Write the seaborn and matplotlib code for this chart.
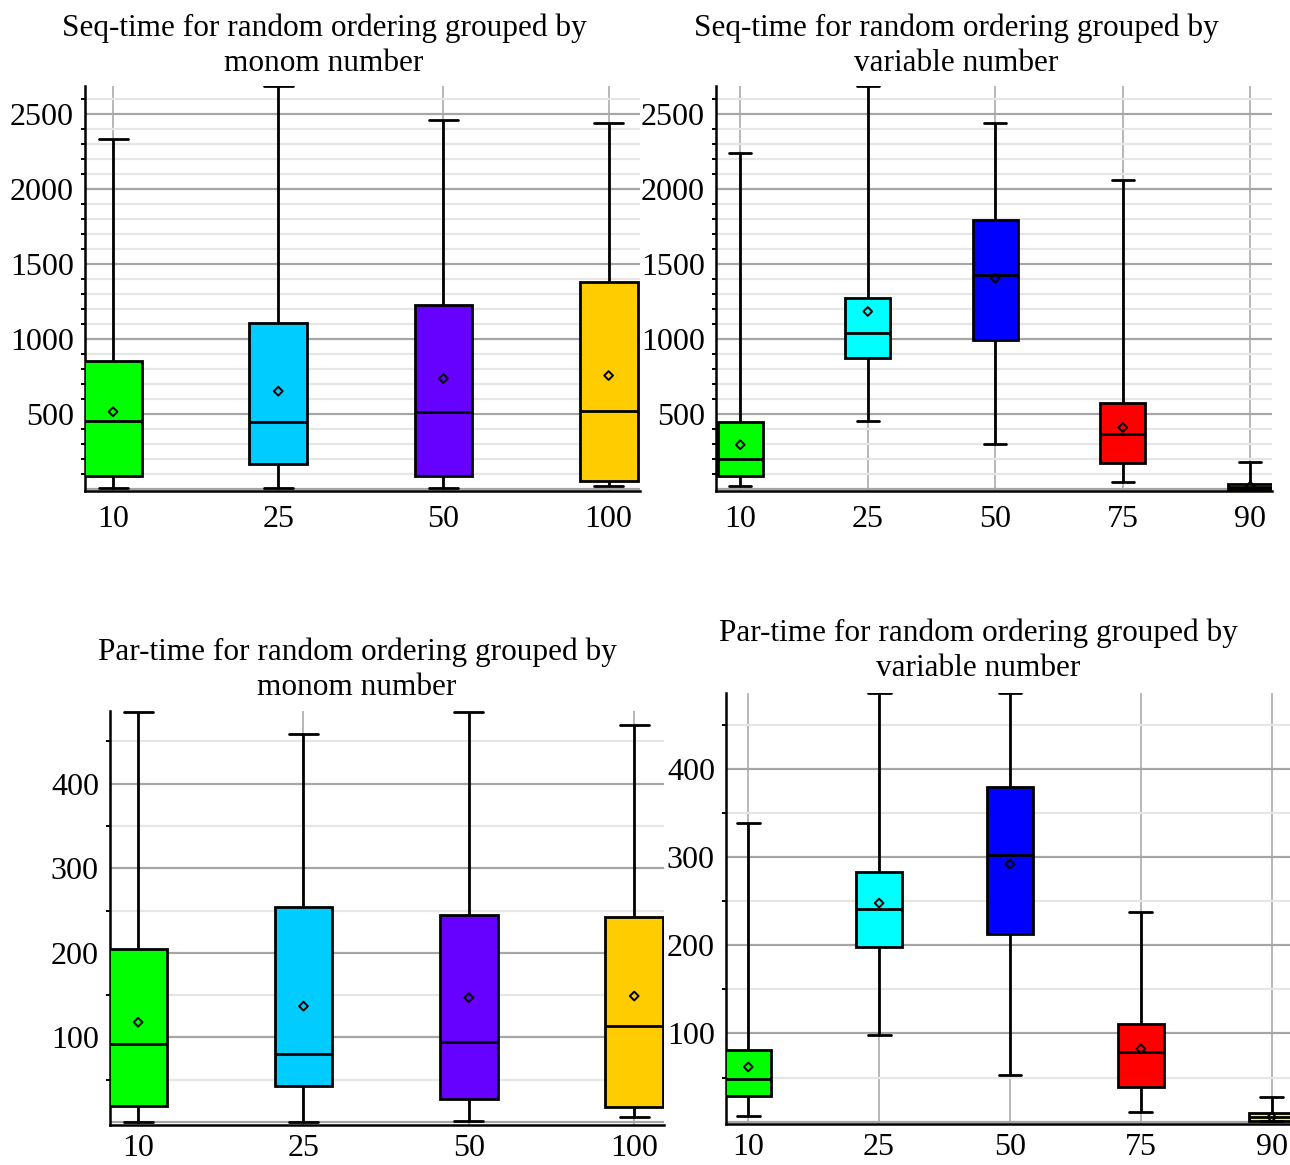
import matplotlib
matplotlib.use("Agg")
import matplotlib.pyplot as plt
from matplotlib.ticker import MultipleLocator, FixedLocator, NullFormatter
import pandas as pd
import seaborn as sns

# ---- categories ----
monom_labels = ["10", "25", "50", "100"]
variable_labels = ["10", "25", "50", "75", "90"]

monom_colors = ["#00FF00", "#00CCFF", "#6600FF", "#FFCC00"]
variable_colors = ["#00FF00", "#00FFFF", "#0000FF", "#FF0000", "#FFFF00"]

# ---- Seq-time grouped by monom number ----
seq_monom_min = [8, 8, 10, 21]
seq_monom_q1 = [90, 169, 92, 58]
seq_monom_med = [457, 446, 515, 519]
seq_monom_q3 = [855, 1106, 1230, 1378]
seq_monom_max = [2334, 2684, 2460, 2438]
seq_monom_mean = [517, 654, 738, 758]

# ---- Seq-time grouped by variable number ----
seq_var_min = [17, 453, 296, 45, 0]
seq_var_q1 = [87, 873, 989, 170, 2]
seq_var_med = [196, 1037, 1428, 369, 12]
seq_var_q3 = [443, 1270, 1794, 569, 30]
seq_var_max = [2236, 2684, 2437, 2058, 176]
seq_var_mean = [294, 1182, 1403, 409, 18]

# ---- Par-time grouped by monom number ----
par_monom_min = [0.5, 0.5, 1.5, 6.3]
par_monom_q1 = [19, 42.5, 26.8, 18]
par_monom_med = [91.7, 80, 94.5, 113]
par_monom_q3 = [204.7, 254, 244.5, 243]
par_monom_max = [485, 459, 485, 469]
par_monom_mean = [118, 137, 147, 149]

# ---- Par-time grouped by variable number ----
par_var_min = [6.7, 97.7, 52.4, 10.9, 1]
par_var_q1 = [28.6, 198, 212.7, 38.8, 1]
par_var_med = [48.6, 241, 301.8, 78.5, 5]
par_var_q3 = [81, 282.5, 379, 110.6, 9.5]
par_var_max = [339, 486, 486, 238, 28]
par_var_mean = [62, 247.8, 292, 82.6, 5]

TITLES = [
    "Seq-time for random ordering grouped by\nmonom number",
    "Seq-time for random ordering grouped by\nvariable number",
    "Par-time for random ordering grouped by\nmonom number",
    "Par-time for random ordering grouped by\nvariable number",
]

sns.set_style("white")
SERIF = ["Liberation Serif", "DejaVu Serif"]
plt.rcParams["font.family"] = SERIF
plt.rcParams["text.color"] = "black"
plt.rcParams["xtick.color"] = "black"
plt.rcParams["ytick.color"] = "black"

W, H = 1290, 1165
fig = plt.figure(figsize=(W / 100, H / 100), dpi=100)


def five_number_frame(labels, mn, q1, med, q3, mx):
    # five-number summary per group, so quartiles and extremes are exact
    rows = []
    for lab, a, b, c, d, e in zip(labels, mn, q1, med, q3, mx):
        for v in (a, b, c, d, e):
            rows.append({"group": lab, "value": v})
    return pd.DataFrame(rows)


def panel(rect_px, labels, colors, stats, means, xlim, ylim, major, minor,
          title, title_xy, xpad):
    l, t, r, b = rect_px
    ax = fig.add_axes([l / W, 1 - b / H, (r - l) / W, (b - t) / H])
    df = five_number_frame(labels, *stats)
    sns.boxplot(data=df, x="group", y="value", hue="group", order=labels,
                hue_order=labels, palette=colors, saturation=1, width=0.35,
                whis=(0, 100), linecolor="black", linewidth=2,
                legend=False, ax=ax, zorder=3)
    ax.scatter(range(len(labels)), means, marker="D", s=20,
               facecolors="none", edgecolors="black", linewidths=1.4,
               zorder=5)
    ax.set_xlim(*xlim)
    ax.set_ylim(*ylim)
    ax.set_xlabel("")
    ax.set_ylabel("")

    top_major = [v for v in range(major, int(ylim[1]) + 1, major)]
    ax.yaxis.set_major_locator(FixedLocator([0] + top_major))
    ax.set_yticklabels([""] + [str(v) for v in top_major])
    ax.yaxis.set_minor_locator(MultipleLocator(minor))
    ax.yaxis.set_minor_formatter(NullFormatter())

    ax.set_axisbelow(True)
    ax.grid(True, axis="y", which="major", color="#a6a6a6", linewidth=1.6)
    ax.grid(True, axis="y", which="minor", color="#e6e6e6", linewidth=1.6)
    ax.grid(True, axis="x", which="major", color="#b8b8b8", linewidth=1.4)

    for side in ("top", "right"):
        ax.spines[side].set_visible(False)
    for side in ("left", "bottom"):
        ax.spines[side].set_color("black")
        ax.spines[side].set_linewidth(1.8)
    ax.tick_params(axis="y", which="major", direction="out", length=5,
                   width=1.4, color="black", labelsize=23, pad=3)
    ax.tick_params(axis="y", which="minor", direction="out", length=3,
                   width=1.4, color="black", left=True)
    ax.tick_params(axis="x", which="major", direction="out", length=5,
                   width=1.4, color="black", labelsize=23, pad=xpad)
    for lab in ax.get_xticklabels() + ax.get_yticklabels():
        lab.set_family(SERIF)
        lab.set_color("black")

    fig.text(title_xy[0] / W, 1 - title_xy[1] / H, title, ha="center",
             va="center", fontsize=22.5, family=SERIF, linespacing=1.27,
             color="black")
    return ax


panel((85, 86, 640, 491), monom_labels, monom_colors,
      (seq_monom_min, seq_monom_q1, seq_monom_med, seq_monom_q3, seq_monom_max),
      seq_monom_mean, (-0.17, 3.19), (-10, 2684), 500, 100,
      TITLES[0], (324, 45.5), 5)

panel((716, 86, 1272, 491), variable_labels, variable_colors,
      (seq_var_min, seq_var_q1, seq_var_med, seq_var_q3, seq_var_max),
      seq_var_mean, (-0.19, 4.17), (-14, 2684), 500, 100,
      TITLES[1], (956, 45.5), 5)

panel((110, 711, 664, 1125), monom_labels, monom_colors,
      (par_monom_min, par_monom_q1, par_monom_med, par_monom_q3, par_monom_max),
      par_monom_mean, (-0.17, 3.18), (-3.5, 486), 100, 50,
      TITLES[2], (357, 669.5), 1.5)

panel((726, 693, 1290, 1124), variable_labels, variable_colors,
      (par_var_min, par_var_q1, par_var_med, par_var_q3, par_var_max),
      par_var_mean, (-0.17, 4.14), (-2.7, 486), 100, 50,
      TITLES[3], (978, 650.5), 1.5)

fig.savefig("out.png", dpi=100)
